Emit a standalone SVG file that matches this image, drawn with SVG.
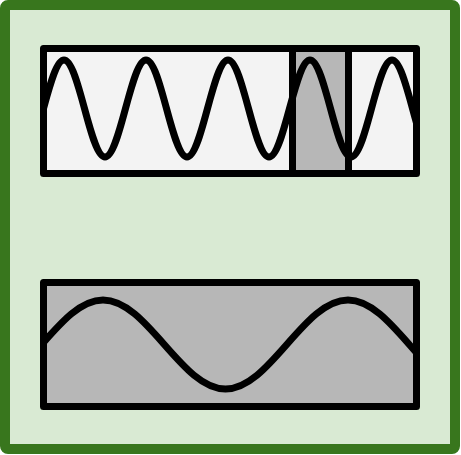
<svg xmlns="http://www.w3.org/2000/svg" width="461" height="455" viewBox="0 0 461 455">
<style>
.frame{fill:none;stroke:#000;stroke-width:7;stroke-linejoin:round}
.wave{fill:none;stroke:#000;stroke-width:7}
</style>
<defs>
<clipPath id="c1"><rect x="47" y="52" width="366" height="118"/></clipPath>
<clipPath id="c2"><rect x="47" y="286" width="366" height="117"/></clipPath>
</defs>
<g id="background">
<rect x="5" y="5" width="450" height="444" rx="3" fill="#d9ead3" stroke="#38761d" stroke-width="10"/>
</g>
<g id="top-signal">
<rect x="43.5" y="48.5" width="373" height="125" fill="#f3f3f3"/>
<rect x="292.5" y="48.5" width="56" height="125" fill="#b7b7b7"/>
<path class="wave" clip-path="url(#c1)" d="M23,157 C37.9,157 49.1,60 64,60 S90.1,157 105,157 S131.1,60 146,60 S172.1,157 187,157 S213.1,60 228,60 S254.1,157 269,157 S295.1,60 310,60 S336.1,157 351,157 S377.1,60 392,60 S418.1,157 433,157"/>
<rect class="frame" x="43.5" y="48.5" width="373" height="125"/>
<line x1="292.5" y1="48.5" x2="292.5" y2="173.5" stroke="#000" stroke-width="7"/>
<line x1="348.5" y1="48.5" x2="348.5" y2="173.5" stroke="#000" stroke-width="7"/>
</g>
<g id="bottom-signal">
<rect x="43.5" y="282.5" width="373" height="124" fill="#b7b7b7"/>
<path class="wave" clip-path="url(#c2)" d="M-19.5,389 C25,389 58.5,300 103,300 S181,389 225.5,389 S303.5,300 348,300 S426,389 470.5,389"/>
<rect class="frame" x="43.5" y="282.5" width="373" height="124"/>
</g>
<g id="connectors"/>
</svg>
